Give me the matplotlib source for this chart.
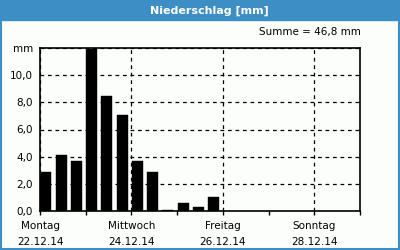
import pandas as pd
import matplotlib
matplotlib.use("Agg")
import matplotlib.pyplot as plt
import matplotlib.dates as mdates
from matplotlib.patches import Rectangle

# 8-hourly precipitation sums
times = ["2014-12-22 00:00", "2014-12-22 08:00", "2014-12-22 16:00",
         "2014-12-23 00:00", "2014-12-23 08:00", "2014-12-23 16:00",
         "2014-12-24 00:00", "2014-12-24 08:00", "2014-12-24 16:00",
         "2014-12-25 00:00", "2014-12-25 08:00", "2014-12-25 16:00"]
precip = [2.9, 4.1, 3.7, 11.9, 8.5, 7.1, 3.7, 2.9, 0.1, 0.6, 0.3, 1.0]

day_names = ["Montag", "Mittwoch", "Freitag", "Sonntag"]
day_dates = ["22.12.14", "24.12.14", "26.12.14", "28.12.14"]
ytick_vals = [0, 2, 4, 6, 8, 10, 12]
ytick_labels = ["0,0", "2,0", "4,0", "6,0", "8,0", "10,0", "mm"]

title = "Niederschlag [mm]"
total = "Summe = 46,8 mm"

blue = "#3d8ec4"
plt.rcParams["font.family"] = "DejaVu Sans"

t = pd.to_datetime(times)
x = mdates.date2num(t)
start = mdates.date2num(pd.Timestamp("2014-12-22"))
end = mdates.date2num(pd.Timestamp("2014-12-29"))

fig = plt.figure(figsize=(4, 2.5), dpi=100, facecolor="#fcfefc")
ax = fig.add_axes([0.1, 0.156, 0.8, 0.652])
ax.set_facecolor("#fcfefc")

bw = 8 / 24 * 0.72
ax.bar(x + 0.25 / 24, precip, width=bw, align="edge", color="black",
       edgecolor="black", linewidth=0.3, zorder=3)

ax.set_xlim(start, end)
ax.set_ylim(0, 12)

major = [mdates.date2num(pd.Timestamp(2014, 12, 22 + 2 * i)) for i in range(4)]
minor = [mdates.date2num(pd.Timestamp(2014, 12, 23 + 2 * i)) for i in range(4)]
ax.set_xticks(major)
ax.set_xticklabels([n + "\n" + d for n, d in zip(day_names, day_dates)],
                   fontsize=7.5, linespacing=1.75)
ax.set_xticks(minor, minor=True)
ax.tick_params(axis="x", which="both", direction="out", length=3, width=1, pad=4)

ax.set_yticks(ytick_vals)
ax.set_yticklabels(ytick_labels, fontsize=7.5)
ax.tick_params(axis="y", length=0, pad=5)

ax.grid(True, which="major", color="black", linestyle=(0, (3, 3)), linewidth=0.9)
for s in ax.spines.values():
    s.set_linewidth(1.2)

# title bar and frame
fig.patches.append(Rectangle((0, 0.92), 1, 0.08, transform=fig.transFigure,
                             color=blue, zorder=0))
fig.patches.append(Rectangle((0.002, 0.004), 0.996, 0.992, transform=fig.transFigure,
                             fill=False, edgecolor=blue, linewidth=1.5, zorder=5))
fig.text(0.523, 0.958, title, color="white", fontsize=8, fontweight="bold",
         ha="center", va="center")
fig.text(0.903, 0.872, total, fontsize=7.5, ha="right", va="center")

fig.savefig("out.png", dpi=100, facecolor=fig.get_facecolor())
